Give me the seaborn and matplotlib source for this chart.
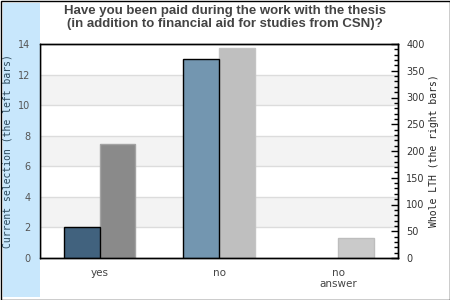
import matplotlib

matplotlib.use("Agg")
import matplotlib.pyplot as plt
import matplotlib.ticker as mticker
import matplotlib.transforms as mtransforms
import pandas as pd
import seaborn as sns
from matplotlib.patches import Rectangle

answers = ["yes", "no", "no\nanswer"]
current_selection = [2, 13, 0]
whole_lth = [213, 392, 37]

left_colors = ["#41627e", "#7396b0", "#7396b0"]
right_colors = ["#8a8a8a", "#bfbfbf", "#cacaca"]
right_edges = ["#a3a3a3", "#c4c4c4", "#bdbdbd"]

sns.set_theme(style="white")
plt.rcParams["font.family"] = ["DejaVu Sans"]

df = pd.DataFrame(
    {
        "answer": answers * 2,
        "series": ["current"] * 3 + ["whole"] * 3,
        "value": current_selection + whole_lth,
    }
)

fig = plt.figure(figsize=(4.5, 3), dpi=100)
fig.patches.append(
    Rectangle((3 / 450, 3 / 300), 37 / 450, 294 / 300, transform=fig.transFigure,
              facecolor="#c8e7fc", edgecolor="none", zorder=0)
)
fig.patches.append(
    Rectangle((0.5 / 450, 0.5 / 300), 449 / 450, 299 / 300, transform=fig.transFigure,
              facecolor="none", edgecolor="black", linewidth=1, zorder=5)
)

ax = fig.add_axes([40 / 450, 42 / 300, 358 / 450, 214 / 300])
ax2 = ax.twinx()

sns.barplot(
    data=df[df["series"] == "current"], x="answer", y="value", hue="series",
    hue_order=["current", "whole"], order=answers, dodge=True, width=0.6,
    ax=ax, legend=False, saturation=1,
)
sns.barplot(
    data=df[df["series"] == "whole"], x="answer", y="value", hue="series",
    hue_order=["current", "whole"], order=answers, dodge=True, width=0.6,
    ax=ax2, legend=False, saturation=1,
)

for i, p in enumerate(ax.containers[0]):
    p.set_facecolor(left_colors[i])
    p.set_edgecolor("black" if current_selection[i] > 0 else "none")
    p.set_linewidth(1)
for i, p in enumerate(ax2.containers[-1]):
    p.set_facecolor(right_colors[i])
    p.set_edgecolor(right_edges[i])
    p.set_linewidth(1)

ax.set_xlim(-0.5, 2.5)
ax.set_ylim(0, 14)
ax2.set_ylim(0, 400)
ax.set_yticks(range(0, 15, 2))
ax2.yaxis.set_major_locator(mticker.MultipleLocator(50))
ax2.yaxis.set_minor_locator(mticker.MultipleLocator(10))

# background bands and grid (drawn on the lower axes, in left-axis units)
band_tr = mtransforms.blended_transform_factory(ax2.transAxes, ax.transData)
for lo in (2, 6, 10):
    ax2.add_patch(Rectangle((0, lo), 1, 2, transform=band_tr,
                            facecolor="#f3f3f3", edgecolor="none", zorder=0))
for yv in range(2, 14, 2):
    ax2.plot([0, 1], [yv, yv], transform=band_tr, color="#dcdcdc", lw=1, zorder=0.5)

ax.set_xlabel("")
ax.set_ylabel("Current selection (the left bars)", family="DejaVu Sans Mono",
              fontsize=7, color="#2d4a5c", labelpad=4)
ax2.set_ylabel("Whole LTH (the right bars)", family="DejaVu Sans Mono",
               fontsize=7, color="#222222", rotation=90, labelpad=3)

ax.tick_params(axis="y", length=0, pad=7, labelsize=7, labelcolor="#555555")
ax.tick_params(axis="x", length=0, pad=7, labelsize=7.5, labelcolor="#444444")
ax2.tick_params(axis="y", which="major", direction="in", length=5, width=1,
                color="black", pad=6, labelsize=7, labelcolor="#333333")
ax2.tick_params(axis="y", which="minor", direction="in", length=3, width=1,
                color="black")

for a in (ax, ax2):
    for s in a.spines.values():
        s.set_color("black")
        s.set_linewidth(1)
ax.set_zorder(ax2.get_zorder() + 1)
ax.patch.set_visible(False)
ax2.patch.set_facecolor("white")

fig.text(0.5, 1 - 5 / 300,
         "Have you been paid during the work with the thesis\n"
         "(in addition to financial aid for studies from CSN)?",
         ha="center", va="top", fontsize=9.5, fontweight="bold",
         family="Liberation Sans", color="#444444", linespacing=1.1)

fig.savefig("out.png", dpi=100, facecolor="white")
